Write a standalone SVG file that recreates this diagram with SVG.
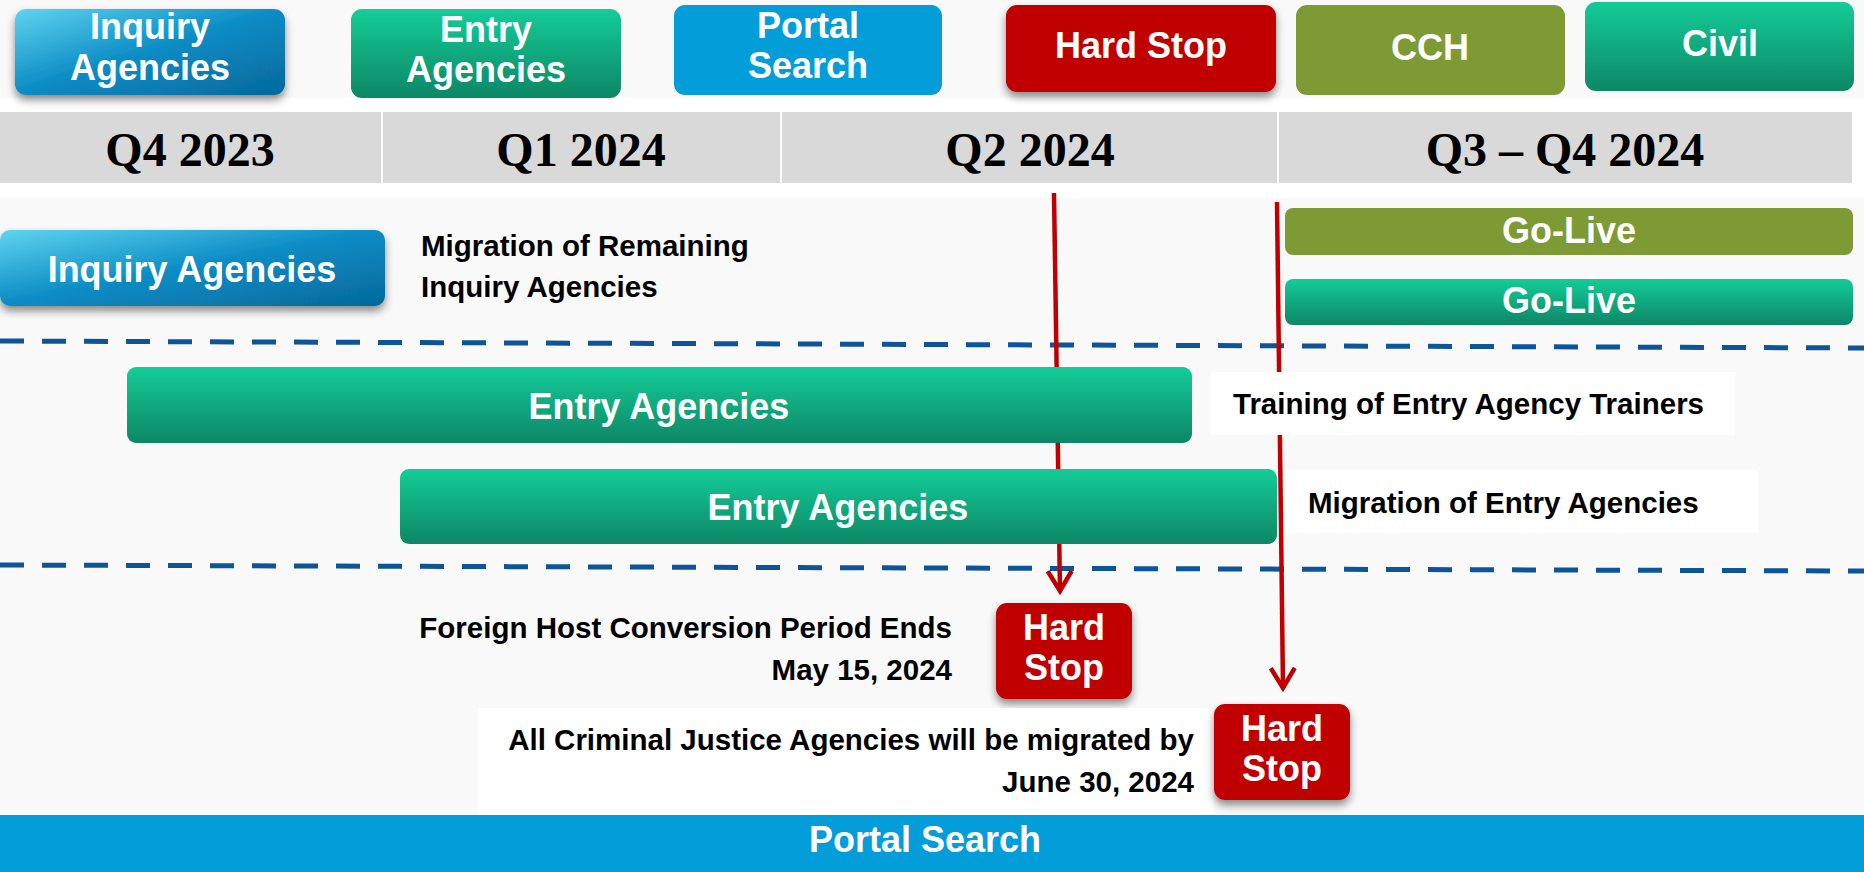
<svg xmlns="http://www.w3.org/2000/svg" width="1864" height="872" viewBox="0 0 1864 872">
<style>
.wt{font-family:"Liberation Sans",Arial,sans-serif;font-weight:bold;font-size:36px;fill:#ffffff;text-anchor:middle}
.lb{font-family:"Liberation Sans",Arial,sans-serif;font-weight:bold;font-size:29.5px;fill:#000000}
.q{font-family:"Liberation Serif","Times New Roman",serif;font-weight:bold;font-size:48px;fill:#000000;text-anchor:middle}
.dash{stroke:#0d5598;stroke-width:5;stroke-dasharray:24 18;fill:none}
.red{stroke:#c00000;stroke-width:4.5;fill:none}
.wbox{fill:#ffffff}
</style>
<defs>
<linearGradient id="gBlue" x1="0" y1="0" x2="1" y2="1">
<stop offset="0" stop-color="#5fd4f0"/>
<stop offset="0.5" stop-color="#0a8bc4"/>
<stop offset="1" stop-color="#05699b"/>
</linearGradient>
<linearGradient id="gGreen" x1="0" y1="0" x2="0" y2="1">
<stop offset="0" stop-color="#14cc97"/>
<stop offset="1" stop-color="#0d8766"/>
</linearGradient>
<filter id="sh" x="-20%" y="-20%" width="140%" height="150%">
<feDropShadow dx="0" dy="5" stdDeviation="4" flood-color="#000" flood-opacity="0.45"/>
</filter>
<marker id="arr" viewBox="0 0 26 28" refX="22" refY="14" markerWidth="26" markerHeight="28" markerUnits="userSpaceOnUse" orient="auto">
<path d="M2,2 L22,14 L2,26" fill="none" stroke="#c00000" stroke-width="4.5"/>
</marker>
</defs>
<rect x="0" y="0" width="1864" height="872" fill="#f9f9f9"/>
<rect x="0" y="98" width="1864" height="100" fill="#ffffff"/>

<!-- Legend -->
<g id="legend-inquiry">
<rect x="15" y="9" width="270" height="86" rx="11" fill="url(#gBlue)" filter="url(#sh)"/>
<text class="wt" x="150" y="39">Inquiry</text>
<text class="wt" x="150" y="80">Agencies</text>
</g>
<g id="legend-entry">
<rect x="351" y="9" width="270" height="89" rx="11" fill="url(#gGreen)"/>
<text class="wt" x="486" y="42">Entry</text>
<text class="wt" x="486" y="82">Agencies</text>
</g>
<g id="legend-portal">
<rect x="674" y="5" width="268" height="90" rx="11" fill="#039dd9"/>
<text class="wt" x="808" y="38">Portal</text>
<text class="wt" x="808" y="78">Search</text>
</g>
<g id="legend-hardstop">
<rect x="1006" y="5" width="270" height="87" rx="11" fill="#c00000" filter="url(#sh)"/>
<text class="wt" x="1141" y="58">Hard Stop</text>
</g>
<g id="legend-cch">
<rect x="1296" y="5" width="269" height="90" rx="11" fill="#7e9a34"/>
<text class="wt" x="1430" y="60">CCH</text>
</g>
<g id="legend-civil">
<rect x="1585" y="2" width="269" height="89" rx="11" fill="url(#gGreen)"/>
<text class="wt" x="1720" y="56">Civil</text>
</g>

<!-- Quarter header -->
<g id="quarters">
<rect x="0" y="112" width="381" height="71" fill="#d9d9d9"/>
<rect x="383" y="112" width="397" height="71" fill="#d9d9d9"/>
<rect x="782" y="112" width="495" height="71" fill="#d9d9d9"/>
<rect x="1279" y="112" width="573" height="71" fill="#d9d9d9"/>
<text class="q" x="190" y="166">Q4 2023</text>
<text class="q" x="581" y="166">Q1 2024</text>
<text class="q" x="1030" y="166">Q2 2024</text>
<text class="q" x="1565" y="166">Q3 – Q4 2024</text>
</g>

<!-- Separators -->
<g id="separators">
<line class="dash" x1="0" y1="341" x2="1864" y2="348"/>
<line class="dash" x1="0" y1="565" x2="1864" y2="571"/>
</g>

<!-- Connectors -->
<g id="connectors">
<line class="red" x1="1054" y1="193" x2="1060" y2="591" marker-end="url(#arr)"/>
<line class="red" x1="1277" y1="202" x2="1283" y2="688" marker-end="url(#arr)"/>
</g>

<!-- Row nodes -->
<g id="inquiry-row">
<rect x="0" y="230" width="385" height="76" rx="10" fill="url(#gBlue)" filter="url(#sh)"/>
<text class="wt" x="192" y="282">Inquiry Agencies</text>
</g>
<g id="label-migration-inquiry">
<text class="lb" x="421" y="256">Migration of Remaining</text>
<text class="lb" x="421" y="297">Inquiry Agencies</text>
</g>
<g id="golive-cch">
<rect x="1285" y="208" width="568" height="47" rx="8" fill="#7e9a34"/>
<text class="wt" x="1569" y="243">Go-Live</text>
</g>
<g id="golive-civil">
<rect x="1285" y="279" width="568" height="46" rx="8" fill="url(#gGreen)"/>
<text class="wt" x="1569" y="313">Go-Live</text>
</g>
<g id="entry-training">
<rect x="127" y="367" width="1065" height="76" rx="9" fill="url(#gGreen)"/>
<text class="wt" x="659" y="419">Entry Agencies</text>
</g>
<g id="label-training">
<rect class="wbox" x="1211" y="372" width="524" height="63"/>
<text class="lb" x="1233" y="414">Training of Entry Agency Trainers</text>
</g>
<g id="entry-migration">
<rect x="400" y="469" width="877" height="75" rx="9" fill="url(#gGreen)"/>
<text class="wt" x="838" y="520">Entry Agencies</text>
</g>
<g id="label-migration-entry">
<rect class="wbox" x="1286" y="470" width="472" height="63"/>
<text class="lb" x="1308" y="513">Migration of Entry Agencies</text>
</g>
<g id="label-foreign-host">
<text class="lb" x="952" y="638" text-anchor="end">Foreign Host Conversion Period Ends</text>
<text class="lb" x="952" y="680" text-anchor="end">May 15, 2024</text>
</g>
<g id="hardstop-1">
<rect x="996" y="603" width="136" height="96" rx="11" fill="#c00000" filter="url(#sh)"/>
<text class="wt" x="1064" y="640">Hard</text>
<text class="wt" x="1064" y="680">Stop</text>
</g>
<g id="label-criminal">
<rect class="wbox" x="478" y="708" width="736" height="107"/>
<text class="lb" x="1194" y="750" text-anchor="end">All Criminal Justice Agencies will be migrated by</text>
<text class="lb" x="1194" y="792" text-anchor="end">June 30, 2024</text>
</g>
<g id="hardstop-2">
<rect x="1214" y="704" width="136" height="96" rx="11" fill="#c00000" filter="url(#sh)"/>
<text class="wt" x="1282" y="741">Hard</text>
<text class="wt" x="1282" y="781">Stop</text>
</g>
<g id="portal-search">
<rect x="0" y="815" width="1864" height="57" fill="#039dd9"/>
<text class="wt" x="925" y="852">Portal Search</text>
</g>
</svg>
